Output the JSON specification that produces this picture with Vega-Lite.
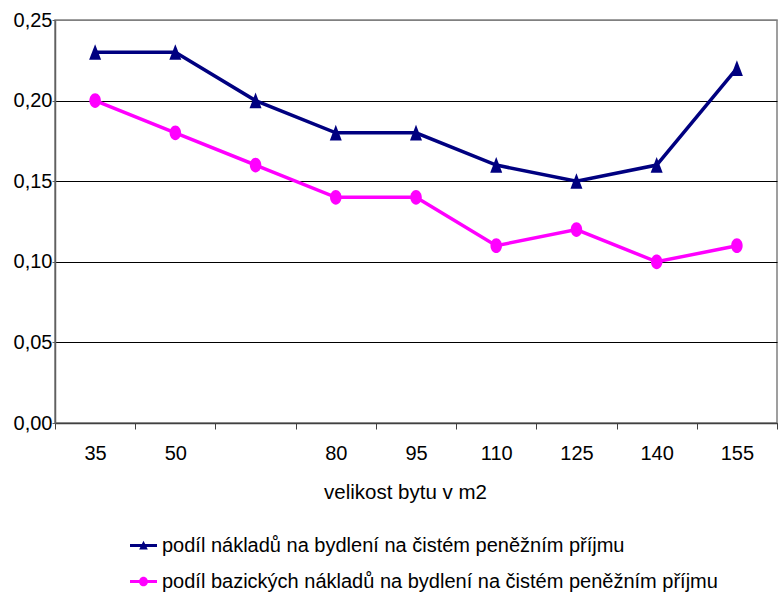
{
  "$schema": "https://vega.github.io/schema/vega-lite/v6.json",
  "width": 722,
  "height": 403,
  "autosize": {"type": "none"},
  "padding": {"left": 55, "top": 20, "right": 2, "bottom": 170},
  "background": "white",
  "config": {"view": {"stroke": "#808080", "strokeWidth": 1.5}, "font": "Liberation Sans"},
  "data": {"values": [
    {"size": "35", "series": "podíl nákladů na bydlení na čistém peněžním příjmu", "value": 0.23},
    {"size": "50", "series": "podíl nákladů na bydlení na čistém peněžním příjmu", "value": 0.23},
    {"size": " ", "series": "podíl nákladů na bydlení na čistém peněžním příjmu", "value": 0.20},
    {"size": "80", "series": "podíl nákladů na bydlení na čistém peněžním příjmu", "value": 0.18},
    {"size": "95", "series": "podíl nákladů na bydlení na čistém peněžním příjmu", "value": 0.18},
    {"size": "110", "series": "podíl nákladů na bydlení na čistém peněžním příjmu", "value": 0.16},
    {"size": "125", "series": "podíl nákladů na bydlení na čistém peněžním příjmu", "value": 0.15},
    {"size": "140", "series": "podíl nákladů na bydlení na čistém peněžním příjmu", "value": 0.16},
    {"size": "155", "series": "podíl nákladů na bydlení na čistém peněžním příjmu", "value": 0.22},
    {"size": "35", "series": "podíl bazických nákladů na bydlení na čistém peněžním příjmu", "value": 0.20},
    {"size": "50", "series": "podíl bazických nákladů na bydlení na čistém peněžním příjmu", "value": 0.18},
    {"size": " ", "series": "podíl bazických nákladů na bydlení na čistém peněžním příjmu", "value": 0.16},
    {"size": "80", "series": "podíl bazických nákladů na bydlení na čistém peněžním příjmu", "value": 0.14},
    {"size": "95", "series": "podíl bazických nákladů na bydlení na čistém peněžním příjmu", "value": 0.14},
    {"size": "110", "series": "podíl bazických nákladů na bydlení na čistém peněžním příjmu", "value": 0.11},
    {"size": "125", "series": "podíl bazických nákladů na bydlení na čistém peněžním příjmu", "value": 0.12},
    {"size": "140", "series": "podíl bazických nákladů na bydlení na čistém peněžním příjmu", "value": 0.10},
    {"size": "155", "series": "podíl bazických nákladů na bydlení na čistém peněžním příjmu", "value": 0.11}
  ]},
  "encoding": {
    "x": {
      "field": "size", "type": "ordinal",
      "sort": ["35", "50", " ", "80", "95", "110", "125", "140", "155"],
      "scale": {"type": "band", "paddingInner": 0, "paddingOuter": 0},
      "axis": {
        "title": "velikost bytu v m2", "labelAngle": 0, "tickBand": "extent",
        "tickSize": 6, "tickColor": "#404040", "domainColor": "#404040", "domainWidth": 1.5,
        "labelFontSize": 20, "labelPadding": 14, "labelColor": "black",
        "titleFontSize": 20.5, "titleFontWeight": "normal", "titlePadding": 19, "titleColor": "black",
        "titleX": 350
      }
    },
    "y": {
      "field": "value", "type": "quantitative",
      "scale": {"domain": [0, 0.25]},
      "axis": {
        "title": null,
        "values": [0, 0.05, 0.1, 0.15, 0.2, 0.25],
        "labelExpr": "replace(format(datum.value,'.2f'),'.',',')",
        "grid": true,
        "gridColor": {"condition": {"test": "datum.value >= 0.25", "value": "#808080"}, "value": "black"},
        "gridWidth": 1,
        "domainColor": "#606060", "domainWidth": 1.5, "tickColor": "#606060", "tickSize": 3,
        "labelPadding": 0, "labelFontSize": 20, "labelColor": "black"
      }
    },
    "color": {
      "field": "series", "type": "nominal",
      "scale": {
        "domain": ["podíl nákladů na bydlení na čistém peněžním příjmu", "podíl bazických nákladů na bydlení na čistém peněžním příjmu"],
        "range": ["#000080", "#FF00FF"]
      },
      "legend": {
        "orient": "none", "legendX": 75, "legendY": 512, "title": null,
        "symbolSize": 729, "symbolOpacity": 1, "labelFontSize": 20, "labelColor": "black", "labelOffset": 5,
        "labelLimit": 0, "rowPadding": 12, "symbolStrokeWidth": 0
      }
    }
  },
  "layer": [
    {"mark": {"type": "line", "strokeWidth": 3.5}},
    {
      "transform": [{"filter": {"field": "series", "equal": "podíl nákladů na bydlení na čistém peněžním příjmu"}}],
      "mark": {"type": "point", "filled": true, "opacity": 1, "size": 256, "shape": "M0,-1L0.75,0.95H-0.75Z"}
    },
    {
      "transform": [{"filter": {"field": "series", "equal": "podíl bazických nákladů na bydlení na čistém peněžním příjmu"}}],
      "mark": {"type": "point", "filled": true, "opacity": 1, "size": 256, "shape": "M-0.72,0A0.72,0.92 0 1,1 0.72,0A0.72,0.92 0 1,1 -0.72,0Z"}
    },
    {
      "mark": {"type": "point", "filled": true, "opacity": 1, "size": 0},
      "encoding": {
        "shape": {
          "field": "series",
          "scale": {
            "domain": ["podíl nákladů na bydlení na čistém peněžním příjmu", "podíl bazických nákladů na bydlení na čistém peněžním příjmu"],
            "range": ["M-1,-0.11H1V0.11H-1Z M0,-0.36L0.32,0.3H-0.32Z", "M-1,-0.11H1V0.11H-1Z M-0.33,0A0.33,0.36 0 1,1 0.33,0A0.33,0.36 0 1,1 -0.33,0Z"]
          }
        }
      }
    }
  ]
}
